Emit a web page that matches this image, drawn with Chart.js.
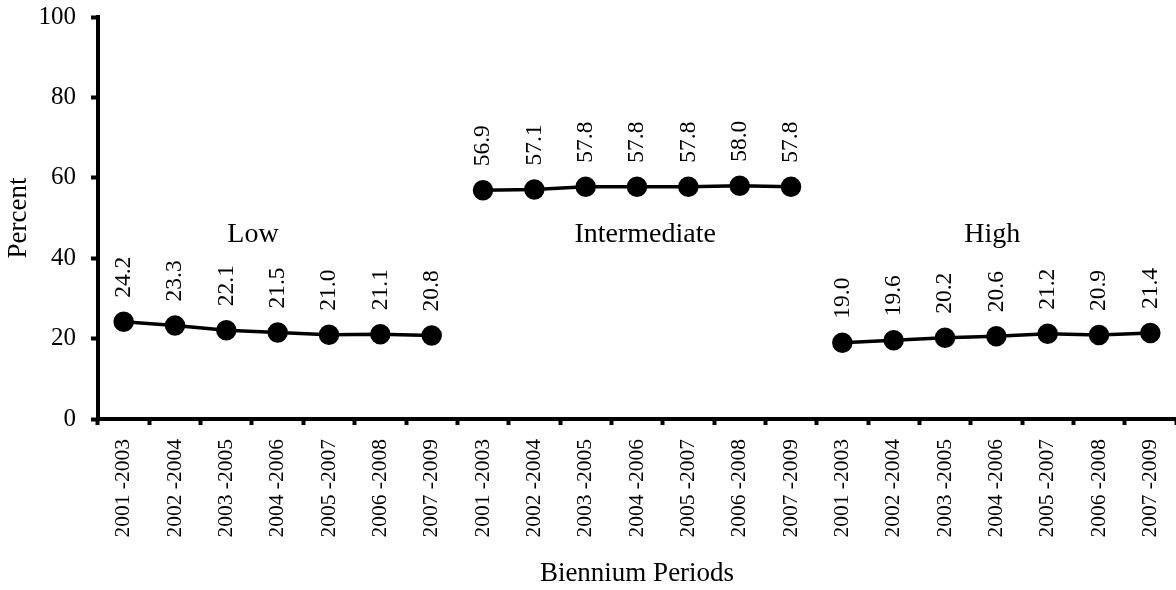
<!DOCTYPE html>
<html>
<head>
<meta charset="utf-8">
<script src="https://cdn.jsdelivr.net/npm/chart.js@4/dist/chart.umd.min.js"></script>
<style>
  html, body { margin: 0; padding: 0; background: #fff; overflow: hidden; }
  #wrap { width: 1176px; height: 590px; position: relative; }
</style>
</head>
<body>
<div id="wrap"><canvas id="c"></canvas></div>
<script>
const periods = ['2001 -2003','2002 -2004','2003 -2005','2004 -2006','2005 -2007','2006 -2008','2007 -2009'];
const lowValues = [24.2, 23.3, 22.1, 21.5, 21.0, 21.1, 20.8];
const intermediateValues = [56.9, 57.1, 57.8, 57.8, 57.8, 58.0, 57.8];
const highValues = [19.0, 19.6, 20.2, 20.6, 21.2, 20.9, 21.4];
const groupNames = ['Low', 'Intermediate', 'High'];
const yTicks = [0, 20, 40, 60, 80, 100];

const categories = [].concat(periods, periods, periods);
const n = periods.length;
function place(values, g) {
  const arr = new Array(categories.length).fill(null);
  values.forEach((v, i) => { arr[g * n + i] = v; });
  return arr;
}
const seriesList = [lowValues, intermediateValues, highValues];

const FONT = "'Liberation Serif', 'Times New Roman', serif";

const labelPlugin = {
  id: 'pointLabels',
  afterDatasetsDraw(chart) {
    const ctx = chart.ctx;
    ctx.save();
    ctx.fillStyle = '#000';
    ctx.font = '23.5px ' + FONT;
    ctx.textAlign = 'left';
    ctx.textBaseline = 'middle';
    chart.data.datasets.forEach((ds, di) => {
      const meta = chart.getDatasetMeta(di);
      meta.data.forEach((pt, i) => {
        const v = ds.data[i];
        if (v === null || v === undefined) return;
        ctx.save();
        ctx.translate(pt.x, pt.y - 24);
        ctx.rotate(-Math.PI / 2);
        ctx.fillText(v.toFixed(1), 0, 0);
        ctx.restore();
      });
    });
    // group names
    const xs = chart.scales.x, ys = chart.scales.y;
    const groupAnchors = [2.52, 10.16, 16.92];
    ctx.font = '28px ' + FONT;
    ctx.textAlign = 'center';
    ctx.textBaseline = 'alphabetic';
    groupNames.forEach((name, g) => {
      ctx.fillText(name, xs.getPixelForValue(groupAnchors[g]), ys.getPixelForValue(44));
    });
    ctx.restore();
  }
};

new Chart(document.getElementById('c'), {
  type: 'line',
  data: {
    labels: categories,
    datasets: seriesList.map((vals, g) => ({
      label: groupNames[g],
      data: place(vals, g),
      borderColor: '#000',
      backgroundColor: '#000',
      borderWidth: 3.5,
      pointRadius: 8.5,
      pointHoverRadius: 8.5,
      pointBackgroundColor: '#000',
      pointBorderColor: '#000',
      spanGaps: false,
      tension: 0,
      clip: false
    }))
  },
  options: {
    responsive: true,
    maintainAspectRatio: false,
    animation: false,
    layout: { autoPadding: false, padding: { top: 17, right: 0, left: 0, bottom: 0 } },
    plugins: {
      legend: { display: false },
      tooltip: { enabled: false }
    },
    scales: {
      x: {
        type: 'category',
        offset: true,
        afterFit(scale) { scale.paddingLeft = 0; scale.paddingRight = 0; },
        grid: {
          display: true, offset: true, drawOnChartArea: false, drawTicks: true,
          tickLength: 6, tickWidth: 4, tickColor: '#000', color: '#000'
        },
        border: { display: true, width: 4, color: '#000' },
        ticks: {
          autoSkip: false, maxRotation: 90, minRotation: 90,
          color: '#000', font: { family: FONT, size: 21.5 }, padding: 14
        },
        title: {
          display: true, text: 'Biennium Periods', color: '#000',
          font: { family: FONT, size: 27 }, padding: { top: 6, bottom: 0 }
        }
      },
      y: {
        min: 0, max: 100,
        afterBuildTicks(scale) { scale.ticks = yTicks.map(v => ({ value: v })); },
        afterFit(scale) { scale.paddingTop = 0; scale.paddingBottom = 0; },
        grid: {
          display: true, drawOnChartArea: false, drawTicks: true,
          tickLength: 7, tickWidth: 4, tickColor: '#000', color: '#000'
        },
        border: { display: true, width: 4, color: '#000' },
        ticks: {
          color: '#000', font: { family: FONT, size: 25 }, padding: 15
        },
        title: {
          display: true, text: 'Percent', color: '#000',
          font: { family: FONT, size: 27, lineHeight: 1 }, padding: { top: 5.5, bottom: -9 }
        }
      }
    }
  },
  plugins: [labelPlugin]
});
</script>
</body>
</html>
